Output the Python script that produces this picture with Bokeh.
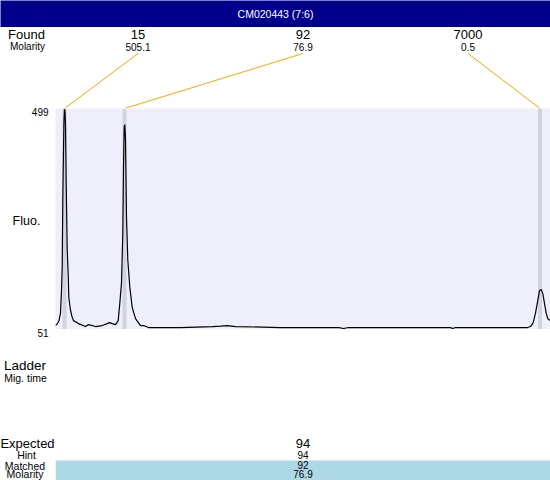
from bokeh.plotting import figure
from bokeh.layouts import column, row
from bokeh.models import Range1d, Label, BoxAnnotation
from bokeh.core.properties import value
from bokeh.embed import file_html
from bokeh.resources import INLINE

# ---------------- data ----------------
sample_name = "CM020443 (7:6)"
found_sizes = ["15", "92", "7000"]
found_molarity = ["505.1", "76.9", "0.5"]
peak_times = [21.8, 33.8, 116.9]

trace_time = [20.0, 20.4, 20.7, 21.0, 21.2, 21.34, 21.46, 21.6, 21.7, 21.8, 21.9, 22.0,
              22.14, 22.34, 22.54, 22.66, 23.0, 23.3, 23.6, 24.6, 26.0, 26.6, 28.0, 29.34,
              30.34, 30.8, 31.34, 32.0, 32.54, 32.86, 33.2, 33.46, 33.6, 33.74, 33.86, 34.0,
              34.2, 34.46, 34.86, 35.34, 36.0, 37.0, 37.6, 38.6, 45.0, 51.4, 53.0, 54.4,
              56.0, 65.0, 76.6, 77.6, 78.6, 89.0, 99.0, 99.4, 100.0, 111.6, 114.4, 115.0,
              115.54, 116.0, 116.46, 116.8, 117.14, 117.46, 117.8, 118.14, 118.46, 119.0]
trace_fluo = [59, 63, 69, 84, 130, 177, 314, 416, 477, 498, 493, 466,
              348, 212, 161, 116, 90, 77, 69, 63, 57, 61, 57, 59,
              63, 65, 63, 61, 69, 104, 145, 247, 381, 462, 466, 436,
              279, 192, 137, 96, 73, 59, 59, 55, 55, 57, 58, 59,
              57, 55, 55, 53, 55, 55, 55, 53, 55, 55, 55, 57,
              65, 84, 110, 130, 132, 124, 104, 84, 73, 69]

fluo_ticks = [51, 499]
fluo_tick_labels = ["51", "499"]
time_limits = [20, 119]

ladder_labels = ["Ladder", "Mig. time"]
table_labels = ["Expected", "Hint", "Matched", "Molarity"]
expected_sizes = ["94"]
hint_sizes = ["94"]
matched_sizes = ["92"]
matched_molarity = ["76.9"]
matched_peak_index = [1]

# ---------------- styling / layout ----------------
FONT = "Liberation Sans"
W, H = 550, 480
LEFT_W = 55
RIGHT_W = W - LEFT_W
TITLE_H = 27
HEAD_H = 81
MAIN_H = 221
FOOT_H = H - TITLE_H - HEAD_H - MAIN_H
BODY_H = H - TITLE_H
NAVY = "#00008B"
LAVENDER = "#EFEFFB"
BAND = "#D3D3DF"
ORANGE = "#FFA500"
LIGHTBLUE = "#ADD8E6"


def bare(w, h, xr, yr, bg="white"):
    f = figure(width=w, height=h, x_range=xr, y_range=yr, output_backend="svg",
               toolbar_location=None, min_border=0, x_axis_type=None, y_axis_type=None,
               background_fill_color=bg, border_fill_color=bg, outline_line_color=None)
    f.grid.visible = False
    return f


def txt(f, x, y, text, size, align="center", yoff=0, yr="default"):
    f.text(x=x, y=y, text=text, text_font=value(FONT), text_font_size=size,
           text_align=align, text_baseline="middle", text_color="black",
           y_offset=yoff, y_range_name=yr)


time_range = Range1d(*time_limits)
span = time_limits[1] - time_limits[0]
n_slots = len(found_sizes)
slot_x = [time_limits[0] + span * (i + 0.5) / n_slots for i in range(n_slots)]

# ---- title bar ----
title_fig = bare(W, TITLE_H, Range1d(0, 1), Range1d(0, 1), bg=NAVY)
title_fig.add_layout(Label(x=0.5, y=0.5, text=sample_name, text_align="center",
                           text_baseline="middle", text_color="white",
                           text_font=FONT, text_font_size="10.5px"))

# ---- left label column (one tall figure, rows measured from its top) ----
k = (fluo_ticks[1] - fluo_ticks[0]) / MAIN_H
left = bare(LEFT_W, BODY_H, Range1d(0, LEFT_W), Range1d(BODY_H, 0))
left.extra_y_ranges = {"fluo": Range1d(fluo_ticks[0] - FOOT_H * k,
                                       fluo_ticks[1] + HEAD_H * k)}
txt(left, [26], [7.3], ["Found"], "13px")
txt(left, [27], [19.0], ["Molarity"], "10px")
txt(left, [48] * 2, fluo_ticks, fluo_tick_labels, "10px", align="right", yoff=3, yr="fluo")
txt(left, [26], [193], ["Fluo."], "12.5px")
txt(left, [24.5], [338], [ladder_labels[0]], "13.5px")
txt(left, [25], [350], [ladder_labels[1]], "10.5px")
txt(left, [27], [416], [table_labels[0]], "13px")
txt(left, [26], [427.8], [table_labels[1]], "10.5px")
txt(left, [24.5], [438], [table_labels[2]], "10.5px")
txt(left, [24.5], [446.3], [table_labels[3]], "10.5px")

# ---- header: found peaks and connectors ----
head = bare(RIGHT_W, HEAD_H, time_range, Range1d(HEAD_H, 0))
txt(head, slot_x, [7.3] * n_slots, found_sizes, "13px")
txt(head, slot_x, [19.7] * n_slots, found_molarity, "10px")
head.segment(x0=slot_x, y0=[26] * n_slots, x1=peak_times, y1=[HEAD_H] * n_slots,
             line_color=ORANGE, line_width=1)

# ---- electropherogram ----
main = bare(RIGHT_W, MAIN_H, time_range, Range1d(fluo_ticks[0], fluo_ticks[1]), bg=LAVENDER)
main.vbar(x=peak_times, width=0.8, top=fluo_ticks[1], bottom=fluo_ticks[0],
          fill_color=BAND, line_color=None)
main.line(trace_time, trace_fluo, line_color="black", line_width=1.2)

# ---- footer: matching table ----
foot = bare(RIGHT_W, FOOT_H, time_range, Range1d(FOOT_H, 0))
foot.add_layout(BoxAnnotation(top=131, bottom=FOOT_H, fill_color=LIGHTBLUE,
                              fill_alpha=1, line_color=None, level="underlay"))
mx = [slot_x[i] for i in matched_peak_index]
txt(foot, mx, [114.2], expected_sizes, "13px")
txt(foot, mx, [125], hint_sizes, "10px")
txt(foot, mx, [135.3], matched_sizes, "10px")
txt(foot, mx, [144.3], matched_molarity, "10px")

p = column(title_fig, row(left, column(head, main, foot)))

open("out.html", "w").write(file_html(p, INLINE))
